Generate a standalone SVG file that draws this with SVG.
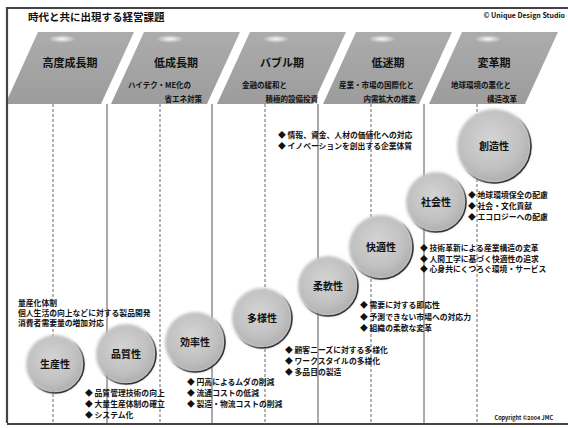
<svg xmlns="http://www.w3.org/2000/svg" width="568" height="428" viewBox="0 0 568 428">
<style>
text{font-family:"Noto Sans CJK JP","Noto Sans",sans-serif;fill:#111;font-weight:700}
.hd{font-size:11px;text-anchor:middle}
.sub{font-size:7.5px}
.lbl{font-size:10px;text-anchor:middle}
.t{font-size:7.8px}
.par{fill:url(#parG)}
.glow{fill:url(#glowG)}
.sol{stroke:#555;stroke-width:1;fill:none}
.dsh{stroke:#666;stroke-width:1;stroke-dasharray:3 2;fill:none}
.cf{fill:url(#cirG);filter:url(#soft)}
.cr{fill:none;stroke:url(#rimG);stroke-width:1.6}
</style>
<defs>
<linearGradient id="parG" x1="0" y1="0" x2="0" y2="1">
<stop offset="0" stop-color="#acacac"/><stop offset="1" stop-color="#9c9c9c"/>
</linearGradient>
<radialGradient id="glowG"><stop offset="0" stop-color="#fff" stop-opacity="0.9"/><stop offset="1" stop-color="#fff" stop-opacity="0"/></radialGradient>
<radialGradient id="cirG" cx="0.45" cy="0.4" r="0.6">
<stop offset="0" stop-color="#d4d4d4"/><stop offset="0.7" stop-color="#c0c0c0"/><stop offset="1" stop-color="#adadad"/>
</radialGradient>
<linearGradient id="rimG" x1="0" y1="0" x2="1" y2="1">
<stop offset="0.45" stop-color="#333" stop-opacity="0"/><stop offset="0.75" stop-color="#333" stop-opacity="1"/>
</linearGradient>
<filter id="soft" x="-20%" y="-20%" width="140%" height="140%"><feGaussianBlur stdDeviation="1.8"/></filter>
</defs>
<rect width="568" height="428" fill="#fff"/>
<path d="M7 423 V8 H568" fill="none" stroke="#444" stroke-width="2.2"/>
<path d="M7 424 H568" fill="none" stroke="#444" stroke-width="2.2"/>
<text x="28" y="21" style="font-size:10.5px">時代と共に出現する経営課題</text>
<text x="565" y="18" style="font-size:7px;text-anchor:end">© Unique Design Studio</text>

<g id="period1">
<path class="par" d="M38 32 H134 L101 104 H8 V98 Z"/>
<ellipse class="glow" cx="62" cy="39" rx="14" ry="4"/>
<text class="hd" x="70" y="67">高度成長期</text>
</g>
<g id="period2">
<path class="par" d="M144 32 H240 L207 104 H111 Z"/>
<ellipse class="glow" cx="170" cy="39" rx="14" ry="4"/>
<text class="hd" x="176" y="67">低成長期</text>
<text class="sub" x="128" y="88">ハイテク・ME化の</text>
<text class="sub" x="202" y="102" text-anchor="end">省エネ対策</text>
</g>
<g id="period3">
<path class="par" d="M250 32 H346 L313 104 H217 Z"/>
<ellipse class="glow" cx="276" cy="39" rx="14" ry="4"/>
<text class="hd" x="282" y="67">バブル期</text>
<text class="sub" x="242" y="88">金融の緩和と</text>
<text class="sub" x="318" y="102" text-anchor="end">積極的設備投資</text>
</g>
<g id="period4">
<path class="par" d="M356 32 H452 L419 104 H323 Z"/>
<ellipse class="glow" cx="382" cy="39" rx="14" ry="4"/>
<text class="hd" x="388" y="67">低迷期</text>
<text class="sub" x="339" y="88">産業・市場の国際化と</text>
<text class="sub" x="416" y="102" text-anchor="end">内需拡大の推進</text>
</g>
<g id="period5">
<path class="par" d="M462 32 H558 L525 104 H429 Z"/>
<ellipse class="glow" cx="488" cy="39" rx="14" ry="4"/>
<text class="hd" x="494" y="67">変革期</text>
<text class="sub" x="451" y="88">地球環境の悪化と</text>
<text class="sub" x="517" y="102" text-anchor="end">構造改革</text>
</g>

<g id="connectors">
<path class="dsh" d="M53 104 V423"/>
<path class="sol" d="M107 104 V423"/>
<path class="dsh" d="M160 104 V423"/>
<path class="sol" d="M212 104 V423"/>
<path class="dsh" d="M265 104 V423"/>
<path class="sol" d="M318 104 V423"/>
<path class="dsh" d="M371 104 V423"/>
<path class="sol" d="M424 104 V423"/>
<path class="dsh" d="M477 104 V423"/>
</g>

<g id="c1"><circle class="cf" cx="55" cy="364" r="29"/><circle class="cr" cx="55" cy="364" r="29"/><text class="lbl" x="55" y="368">生産性</text></g>
<g id="c2"><circle class="cf" cx="126" cy="354" r="30"/><circle class="cr" cx="126" cy="354" r="30"/><text class="lbl" x="126" y="358">品質性</text></g>
<g id="c3"><circle class="cf" cx="195" cy="342" r="30"/><circle class="cr" cx="195" cy="342" r="30"/><text class="lbl" x="195" y="346">効率性</text></g>
<g id="c4"><circle class="cf" cx="262" cy="318" r="30"/><circle class="cr" cx="262" cy="318" r="30"/><text class="lbl" x="262" y="322">多様性</text></g>
<g id="c5"><circle class="cf" cx="328" cy="286" r="30"/><circle class="cr" cx="328" cy="286" r="30"/><text class="lbl" x="328" y="290">柔軟性</text></g>
<g id="c6"><circle class="cf" cx="381" cy="247" r="32"/><circle class="cr" cx="381" cy="247" r="32"/><text class="lbl" x="381" y="251">快適性</text></g>
<g id="c7"><circle class="cf" cx="436" cy="202" r="30"/><circle class="cr" cx="436" cy="202" r="30"/><text class="lbl" x="436" y="206">社会性</text></g>
<g id="c8"><circle class="cf" cx="494" cy="146" r="37"/><circle class="cr" cx="494" cy="146" r="37"/><text class="lbl" x="494" y="150">創造性</text></g>

<g id="notes1">
<text class="t" x="18" y="306">量産化体制</text>
<text class="t" x="18" y="316">個人生活の向上などに対する製品開発</text>
<text class="t" x="18" y="326">消費者需要量の増加対応</text>
</g>
<g id="notes2">
<text class="t" x="85" y="396">◆ 品質管理技術の向上</text>
<text class="t" x="85" y="407">◆ 大量生産体制の確立</text>
<text class="t" x="85" y="418">◆ システム化</text>
</g>
<g id="notes3">
<text class="t" x="187" y="385">◆ 円高によるムダの削減</text>
<text class="t" x="187" y="396">◆ 流通コストの低減</text>
<text class="t" x="187" y="407">◆ 製造・物流コストの削減</text>
</g>
<g id="notes4">
<text class="t" x="285" y="353">◆ 顧客ニーズに対する多様化</text>
<text class="t" x="285" y="364">◆ ワークスタイルの多様化</text>
<text class="t" x="285" y="375">◆ 多品目の製造</text>
</g>
<g id="notes5">
<text class="t" x="360" y="308">◆ 需要に対する即応性</text>
<text class="t" x="360" y="320">◆ 予測できない市場への対応力</text>
<text class="t" x="360" y="331">◆ 組織の柔軟な変革</text>
</g>
<g id="notes6">
<text class="t" x="420" y="251">◆ 技術革新による産業構造の変革</text>
<text class="t" x="420" y="262">◆ 人間工学に基づく快適性の追求</text>
<text class="t" x="420" y="272">◆ 心身共にくつろぐ環境・サービス</text>
</g>
<g id="notes7">
<text class="t" x="468" y="198">◆ 地球環境保全の配慮</text>
<text class="t" x="468" y="209">◆ 社会・文化貢献</text>
<text class="t" x="468" y="220">◆ エコロジーへの配慮</text>
</g>
<g id="notes8">
<text class="t" x="278" y="138">◆ 情報、資金、人材の価値化への対応</text>
<text class="t" x="278" y="149">◆ イノベーションを創出する企業体質</text>
</g>
<text x="553" y="420" style="font-size:5.5px;text-anchor:end">Copyright ©2004 JMC</text>
</svg>
